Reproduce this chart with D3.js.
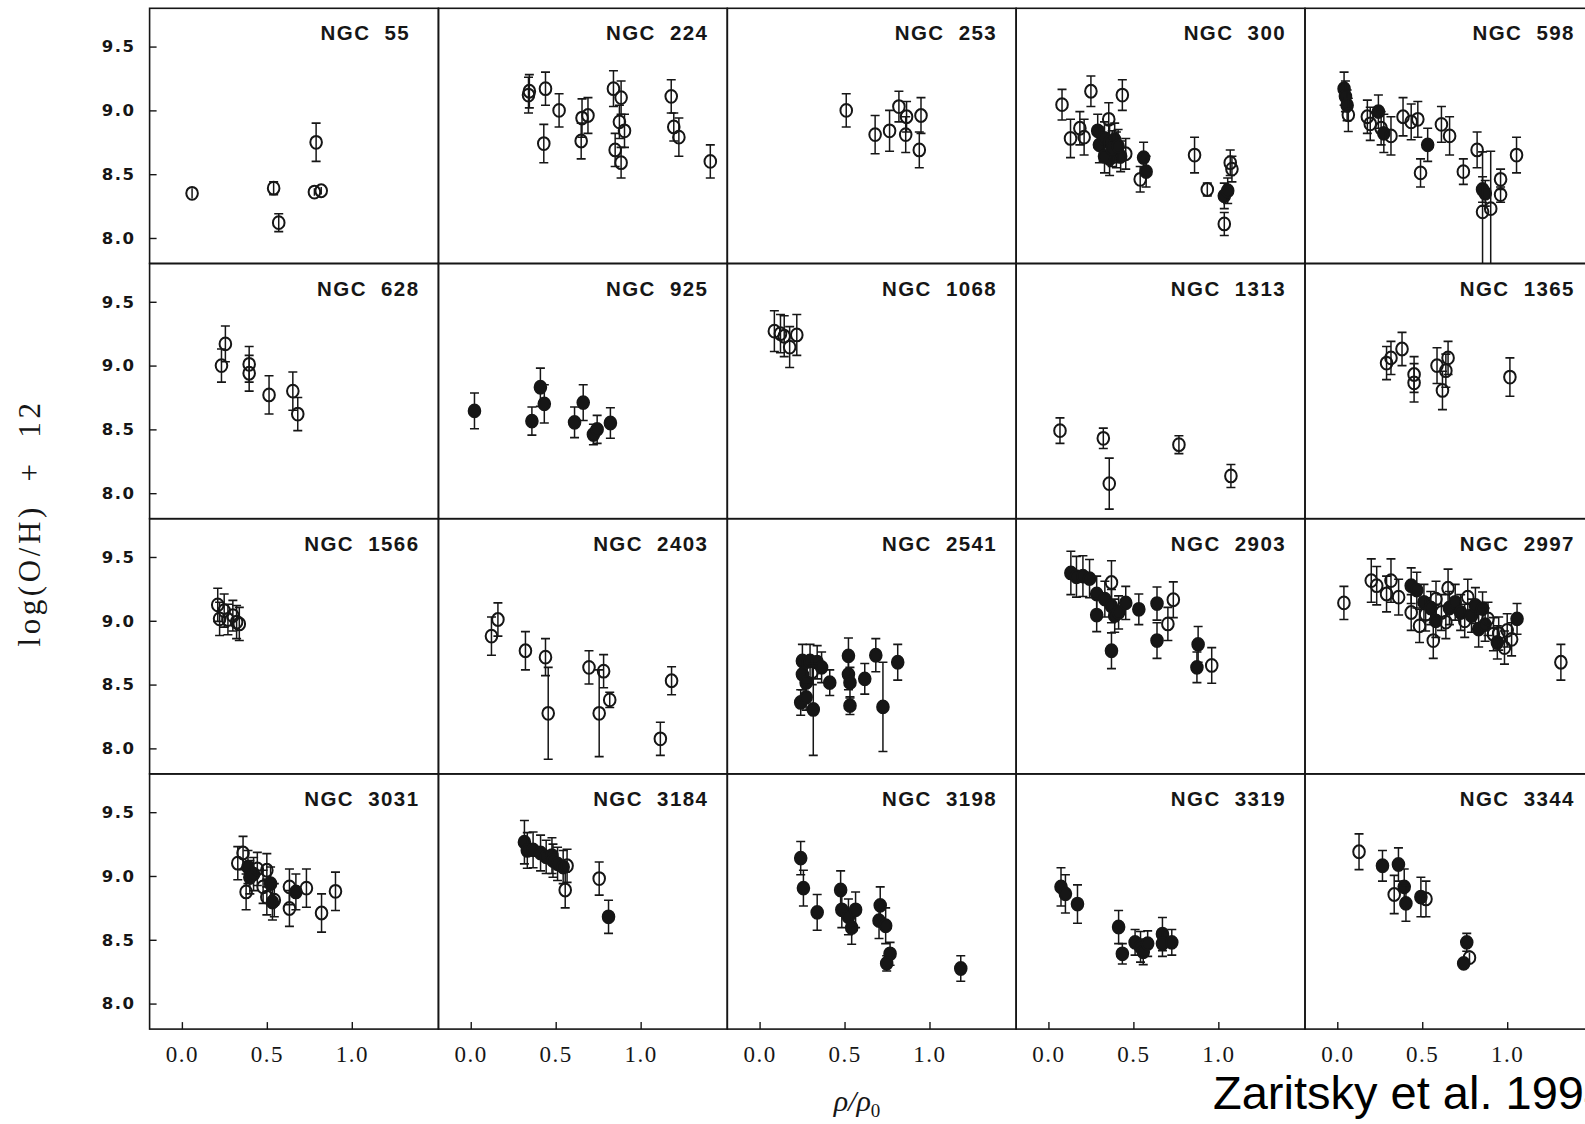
<!DOCTYPE html>
<html>
<head>
<meta charset="utf-8">
<script src="https://cdn.jsdelivr.net/npm/d3@7"></script>
<style>
  html, body { margin: 0; padding: 0; background: #fff; overflow: hidden; }
  svg { display: block; }
</style>
</head>
<body>
<svg id="chart" width="1585" height="1124"></svg>
<script>
// Radial oxygen abundance gradients; each point: [rho/rho0, log(O/H)+12, error, filled]
const ngc55 = [[0.06,8.35,0.04,0],[0.54,8.39,0.05,0],[0.57,8.12,0.07,0],[0.79,8.75,0.15,0],[0.78,8.36,0.03,0],[0.82,8.37,0.03,0]];
const ngc224 = [[0.34,9.12,0.14,0],[0.345,9.15,0.13,0],[0.44,9.17,0.13,0],[0.43,8.74,0.15,0],[0.52,9.0,0.13,0],[0.655,8.94,0.15,0],[0.69,8.96,0.14,0],[0.65,8.76,0.14,0],[0.84,9.17,0.14,0],[0.885,9.1,0.13,0],[0.875,8.91,0.13,0],[0.905,8.84,0.13,0],[0.85,8.69,0.13,0],[0.885,8.59,0.12,0],[1.18,9.11,0.13,0],[1.195,8.87,0.11,0],[1.225,8.79,0.15,0],[1.41,8.6,0.13,0]];
const ngc253 = [[0.51,9.0,0.13,0],[0.68,8.81,0.15,0],[0.765,8.84,0.16,0],[0.82,9.03,0.12,0],[0.865,8.95,0.12,0],[0.86,8.81,0.14,0],[0.95,8.96,0.14,0],[0.94,8.69,0.14,0]];
const ngc300 = [[0.08,9.045,0.12,0],[0.13,8.78,0.15,0],[0.185,8.86,0.13,0],[0.21,8.79,0.14,0],[0.25,9.15,0.12,0],[0.435,9.12,0.12,0],[0.355,8.93,0.13,0],[0.455,8.66,0.12,0],[0.54,8.46,0.1,0],[0.86,8.65,0.14,0],[0.935,8.38,0.05,0],[1.035,8.11,0.09,0],[1.07,8.59,0.1,0],[1.08,8.54,0.1,0],[0.29,8.84,0.13,1],[0.30,8.73,0.14,1],[0.33,8.78,0.13,1],[0.36,8.75,0.14,1],[0.39,8.77,0.13,1],[0.40,8.69,0.14,1],[0.425,8.64,0.12,1],[0.36,8.62,0.13,1],[0.33,8.64,0.13,1],[0.375,8.70,0.14,1],[0.41,8.72,0.13,1],[0.56,8.63,0.12,1],[0.575,8.52,0.12,1],[1.035,8.33,0.1,1],[1.055,8.37,0.1,1]];
const ngc598 = [[0.04,9.17,0.13,1],[0.048,9.11,0.12,1],[0.058,9.04,0.12,1],[0.065,8.965,0.13,0],[0.177,8.95,0.13,0],[0.194,8.895,0.13,0],[0.242,8.99,0.13,1],[0.258,8.86,0.13,0],[0.274,8.82,0.15,1],[0.316,8.80,0.15,0],[0.387,8.95,0.15,0],[0.435,8.91,0.14,0],[0.474,8.93,0.14,0],[0.532,8.73,0.13,1],[0.49,8.51,0.11,0],[0.613,8.89,0.14,0],[0.661,8.80,0.15,0],[0.742,8.52,0.1,0],[0.823,8.69,0.14,0],[0.855,8.38,0.1,1],[0.871,8.35,0.1,1],[0.855,8.205,0.47,0],[0.903,8.23,0.45,0],[0.961,8.46,0.08,0],[0.961,8.34,0.06,0],[1.055,8.65,0.14,0]];
const ngc628 = [[0.256,9.17,0.14,0],[0.233,9.0,0.13,0],[0.396,9.01,0.14,0],[0.396,8.94,0.14,0],[0.513,8.77,0.15,0],[0.653,8.80,0.15,0],[0.682,8.62,0.13,0]];
const ngc925 = [[0.022,8.645,0.14,1],[0.36,8.565,0.11,1],[0.41,8.83,0.15,1],[0.433,8.70,0.15,1],[0.611,8.555,0.12,1],[0.662,8.71,0.14,1],[0.722,8.46,0.08,1],[0.744,8.50,0.11,1],[0.822,8.55,0.12,1]];
const ngc1068 = [[0.087,9.27,0.16,0],[0.123,9.25,0.15,0],[0.145,9.23,0.16,0],[0.177,9.145,0.16,0],[0.219,9.24,0.16,0]];
const ngc1313 = [[0.068,8.49,0.1,0],[0.323,8.43,0.08,0],[0.358,8.075,0.2,0],[0.768,8.38,0.07,0],[1.074,8.135,0.09,0]];
const ngc1365 = [[0.29,9.02,0.13,0],[0.316,9.06,0.13,0],[0.381,9.13,0.13,0],[0.452,8.93,0.14,0],[0.452,8.865,0.15,0],[0.587,9.0,0.14,0],[0.652,9.06,0.13,0],[0.639,8.96,0.13,0],[0.619,8.805,0.15,0],[1.016,8.91,0.15,0]];
const ngc1566 = [[0.211,9.125,0.13,0],[0.222,9.015,0.13,0],[0.249,9.08,0.13,0],[0.271,9.01,0.12,0],[0.30,9.04,0.12,0],[0.322,8.99,0.13,0],[0.338,8.975,0.13,0]];
const ngc2403 = [[0.122,8.88,0.15,0],[0.16,9.01,0.13,0],[0.322,8.765,0.15,0],[0.44,8.715,0.145,0],[0.456,8.275,0.36,0],[0.696,8.635,0.13,0],[0.782,8.605,0.13,0],[0.756,8.275,0.34,0],[0.818,8.38,0.06,0],[1.182,8.53,0.11,0],[1.116,8.075,0.13,0]];
const ngc2541 = [[0.252,8.685,0.13,1],[0.297,8.685,0.13,1],[0.339,8.675,0.13,1],[0.365,8.635,0.12,1],[0.252,8.58,0.12,1],[0.274,8.515,0.12,1],[0.242,8.36,0.1,1],[0.274,8.40,0.1,1],[0.316,8.305,0.36,1],[0.413,8.515,0.1,1],[0.523,8.725,0.14,1],[0.523,8.58,0.12,1],[0.532,8.515,0.12,1],[0.532,8.335,0.07,1],[0.619,8.545,0.12,1],[0.684,8.73,0.13,1],[0.726,8.325,0.35,1],[0.813,8.675,0.14,1],[0.31,8.60,0.1,0]];
const ngc2903 = [[0.132,9.375,0.17,1],[0.165,9.345,0.16,1],[0.203,9.35,0.16,1],[0.242,9.33,0.15,1],[0.284,9.21,0.14,1],[0.284,9.045,0.13,1],[0.332,9.17,0.14,1],[0.371,9.30,0.17,0],[0.371,9.115,0.13,1],[0.39,9.04,0.13,1],[0.413,9.065,0.13,1],[0.455,9.14,0.13,1],[0.371,8.765,0.14,1],[0.532,9.09,0.12,1],[0.639,9.135,0.13,1],[0.639,8.845,0.14,1],[0.735,9.165,0.14,0],[0.703,8.975,0.13,0],[0.881,8.815,0.14,1],[0.874,8.635,0.12,1],[0.961,8.65,0.14,0]];
const ngc2997 = [[0.039,9.14,0.13,0],[0.2,9.315,0.17,0],[0.232,9.275,0.15,0],[0.316,9.315,0.17,0],[0.29,9.21,0.14,0],[0.361,9.185,0.14,0],[0.435,9.275,0.14,1],[0.468,9.24,0.14,1],[0.435,9.065,0.14,0],[0.484,8.96,0.13,0],[0.51,9.145,0.14,1],[0.52,9.05,0.13,0],[0.55,9.1,0.13,1],[0.565,8.845,0.14,0],[0.58,9.0,0.13,1],[0.581,9.17,0.14,0],[0.613,9.065,0.14,0],[0.639,8.99,0.13,0],[0.652,9.255,0.15,0],[0.66,9.1,0.13,1],[0.694,9.145,0.14,1],[0.726,9.065,0.14,1],[0.75,9.0,0.13,0],[0.768,9.185,0.14,0],[0.79,9.04,0.13,1],[0.813,9.12,0.14,1],[0.832,8.935,0.14,1],[0.855,9.095,0.13,1],[0.87,8.97,0.13,1],[0.887,9.015,0.13,0],[0.919,8.895,0.13,0],[0.942,8.83,0.13,1],[0.95,8.9,0.13,0],[0.984,8.79,0.13,0],[1.0,8.925,0.13,0],[1.026,8.855,0.13,0],[1.058,9.015,0.12,1],[1.316,8.675,0.14,0]];
const ngc3031 = [[0.329,9.10,0.13,0],[0.36,9.18,0.13,0],[0.378,8.875,0.14,0],[0.389,9.07,0.13,1],[0.40,8.99,0.13,1],[0.422,9.015,0.13,1],[0.444,9.055,0.13,0],[0.478,8.915,0.13,0],[0.50,9.045,0.13,0],[0.522,8.94,0.13,1],[0.50,8.835,0.14,0],[0.533,8.795,0.14,1],[0.544,8.81,0.13,0],[0.633,8.915,0.14,0],[0.633,8.745,0.14,0],[0.671,8.875,0.14,1],[0.733,8.905,0.15,0],[0.822,8.71,0.15,0],[0.904,8.88,0.15,0]];
const ngc3184 = [[0.316,9.265,0.17,1],[0.333,9.20,0.14,1],[0.367,9.205,0.14,1],[0.411,9.18,0.14,1],[0.444,9.15,0.13,1],[0.478,9.16,0.14,1],[0.484,9.12,0.13,1],[0.511,9.095,0.13,1],[0.544,9.07,0.13,1],[0.567,9.08,0.13,0],[0.556,8.89,0.14,0],[0.756,8.98,0.13,0],[0.811,8.68,0.13,1]];
const ngc3198 = [[0.242,9.14,0.13,1],[0.258,8.905,0.14,1],[0.339,8.715,0.14,1],[0.477,8.89,0.15,1],[0.484,8.735,0.14,1],[0.523,8.68,0.14,1],[0.542,8.595,0.13,1],[0.565,8.735,0.14,1],[0.71,8.77,0.145,1],[0.703,8.65,0.14,1],[0.742,8.61,0.14,1],[0.768,8.39,0.09,1],[0.748,8.315,0.06,1],[1.184,8.275,0.1,1]];
const ngc3319 = [[0.074,8.915,0.15,1],[0.10,8.86,0.15,1],[0.171,8.78,0.15,1],[0.413,8.60,0.13,1],[0.435,8.39,0.08,1],[0.51,8.48,0.1,1],[0.542,8.445,0.12,1],[0.558,8.405,0.1,1],[0.584,8.47,0.1,1],[0.671,8.545,0.13,1],[0.671,8.47,0.1,1],[0.726,8.48,0.1,1]];
const ngc3344 = [[0.128,9.19,0.14,0],[0.266,9.08,0.12,1],[0.36,9.09,0.13,1],[0.335,8.855,0.15,0],[0.394,8.915,0.14,1],[0.404,8.785,0.14,1],[0.492,8.835,0.155,1],[0.522,8.82,0.14,0],[0.762,8.48,0.07,1],[0.778,8.36,0.04,0],[0.744,8.315,0.03,1]];

// Panel names, row by row, and the matching point sets
const galaxyNames = [
  "NGC 55", "NGC 224", "NGC 253", "NGC 300", "NGC 598",
  "NGC 628", "NGC 925", "NGC 1068", "NGC 1313", "NGC 1365",
  "NGC 1566", "NGC 2403", "NGC 2541", "NGC 2903", "NGC 2997",
  "NGC 3031", "NGC 3184", "NGC 3198", "NGC 3319", "NGC 3344"
];
const galaxyPoints = [
  ngc55, ngc224, ngc253, ngc300, ngc598,
  ngc628, ngc925, ngc1068, ngc1313, ngc1365,
  ngc1566, ngc2403, ngc2541, ngc2903, ngc2997,
  ngc3031, ngc3184, ngc3198, ngc3319, ngc3344
];

const xTicks = [0.0, 0.5, 1.0];
const yTicks = [8.0, 8.5, 9.0, 9.5];
const xDomain = [-0.19, 1.51];
const yDomain = [7.8, 9.8];

// Grid geometry
const nCols = 5, nRows = 4;
const gridLeft = 149.6, gridTop = 8.3;
const panelW = 288.85, panelH = 255.2;
const ink = "#161616";

const svg = d3.select("#chart");

const x = d3.scaleLinear().domain(xDomain).range([0, panelW]);
const y = d3.scaleLinear().domain(yDomain).range([panelH, 0]);

const defs = svg.append("defs");
defs.append("clipPath").attr("id", "panelClip")
  .append("rect").attr("x", 0).attr("y", 0).attr("width", panelW).attr("height", panelH);

galaxyNames.forEach((name, i) => {
  const col = i % nCols, row = Math.floor(i / nCols);
  const g = svg.append("g")
    .attr("transform", `translate(${gridLeft + col * panelW},${gridTop + row * panelH})`);

  // points with error bars
  const plot = g.append("g").attr("clip-path", "url(#panelClip)");
  const pts = plot.selectAll("g.pt").data(galaxyPoints[i]).join("g").attr("class", "pt");
  pts.append("line")
    .attr("x1", d => x(d[0])).attr("x2", d => x(d[0]))
    .attr("y1", d => y(d[1] + d[2])).attr("y2", d => y(d[1] - d[2]))
    .attr("stroke", ink).attr("stroke-width", 1.5);
  pts.filter(d => d[2] > 0.04).selectAll("line.cap")
    .data(d => [[d[0], d[1] + d[2]], [d[0], d[1] - d[2]]])
    .join("line").attr("class", "cap")
    .attr("x1", d => x(d[0]) - 4.5).attr("x2", d => x(d[0]) + 4.5)
    .attr("y1", d => y(d[1])).attr("y2", d => y(d[1]))
    .attr("stroke", ink).attr("stroke-width", 1.6);
  pts.append("ellipse")
    .attr("cx", d => x(d[0])).attr("cy", d => y(d[1]))
    .attr("rx", 5.8).attr("ry", 6.4)
    .attr("fill", d => d[3] ? ink : "none")
    .attr("stroke", ink).attr("stroke-width", 2);

  // panel frame
  g.append("rect").attr("width", panelW).attr("height", panelH)
    .attr("fill", "none").attr("stroke", ink).attr("stroke-width", 1.6);

  // galaxy name: starts at a fixed inset, shifted left when the name is long
  const label = g.append("text")
    .attr("y", 32)
    .style("white-space", "pre")
    .attr("font-family", "'Liberation Sans', Arial, sans-serif")
    .attr("font-weight", "bold").attr("font-size", 20.5)
    .attr("letter-spacing", 1.4)
    .attr("fill", ink)
    .text(name.replace(" ", "  "));
  const len = label.node().getComputedTextLength();
  label.attr("x", Math.min(171, panelW - 19 - len));

  // y axis on the first column, ticks pointing inward
  if (col === 0) {
    const ya = g.append("g").call(
      d3.axisLeft(y).tickValues(yTicks).tickFormat(d3.format(".1f"))
        .tickSizeInner(-7).tickSizeOuter(0).tickPadding(14));
    ya.select(".domain").remove();
    ya.selectAll("line").attr("stroke", ink).attr("stroke-width", 1.4);
    ya.selectAll("text")
      .attr("font-family", "'DejaVu Sans', sans-serif")
      .attr("font-weight", "bold").attr("font-size", 16.5)
      .attr("letter-spacing", 1.5).attr("fill", ink);
  }

  // x axis on the bottom row, ticks pointing inward
  if (row === nRows - 1) {
    const xa = g.append("g").attr("transform", `translate(0,${panelH})`).call(
      d3.axisBottom(x).tickValues(xTicks).tickFormat(d3.format(".1f"))
        .tickSizeInner(-7).tickSizeOuter(0).tickPadding(17));
    xa.select(".domain").remove();
    xa.selectAll("line").attr("stroke", ink).attr("stroke-width", 1.4);
    xa.selectAll("text")
      .attr("font-family", "'Liberation Serif', 'Times New Roman', serif")
      .attr("font-size", 23).attr("letter-spacing", 1.5).attr("fill", ink);
  }
});

// axis titles
svg.append("text")
  .attr("transform", "translate(40,523) rotate(-90)")
  .attr("text-anchor", "middle")
  .style("white-space", "pre")
  .attr("font-family", "'Liberation Serif', 'Times New Roman', serif")
  .attr("font-size", 31).attr("letter-spacing", 3.6).attr("fill", ink)
  .text("log(O/H)  +  12");

const xt = svg.append("text")
  .attr("x", 857).attr("y", 1111)
  .attr("text-anchor", "middle")
  .attr("font-family", "'Liberation Serif', 'Times New Roman', serif")
  .attr("font-style", "italic").attr("font-size", 30).attr("fill", ink);
xt.append("tspan").text("ρ/ρ");
xt.append("tspan").attr("font-size", 19).attr("dy", 6).attr("font-style", "normal").text("0");

// source note, running off the right edge of the page
svg.append("text")
  .attr("x", 1213).attr("y", 1109)
  .attr("font-family", "'Liberation Sans', Arial, sans-serif")
  .attr("font-size", 47).attr("fill", "#000")
  .text("Zaritsky et al. 1994");
</script>
</body>
</html>
